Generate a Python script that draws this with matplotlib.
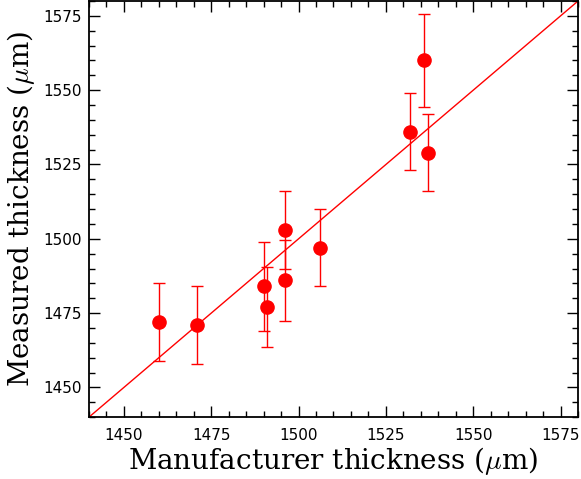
import numpy as np
import matplotlib
matplotlib.use('Agg')
import matplotlib.pyplot as plt
from matplotlib.ticker import MultipleLocator

plt.rcParams['mathtext.fontset'] = 'cm'

# manufacturer thickness vs measured thickness (um)
manufacturer = [1460, 1471, 1490, 1491, 1496, 1496, 1506, 1532, 1536, 1537]
measured = [1472, 1471, 1484, 1477, 1486, 1503, 1497, 1536, 1560, 1529]
errors = [13, 13, 15, 13.5, 13.5, 13, 13, 13, 15.5, 13]
line_range = [1440, 1580]

fig = plt.figure(figsize=(5.81, 4.79), dpi=100)
ax = fig.add_axes([0.153, 0.129, 0.842, 0.869])

ax.plot(line_range, line_range, color='red', lw=1.0)
ax.errorbar(manufacturer, measured, yerr=errors, fmt='o', color='red',
            ms=9.5, elinewidth=1.0, capsize=4, capthick=1.0)

ax.set_xlim(line_range)
ax.set_ylim(line_range)
ax.xaxis.set_major_locator(MultipleLocator(25))
ax.xaxis.set_minor_locator(MultipleLocator(5))
ax.yaxis.set_major_locator(MultipleLocator(25))
ax.yaxis.set_minor_locator(MultipleLocator(5))
ax.tick_params(which='both', direction='in', top=True, right=True, width=1.0)
ax.tick_params(which='major', length=8, labelsize=11)
ax.tick_params(axis='x', which='major', pad=8)
ax.tick_params(axis='y', which='major', pad=5)
ax.tick_params(which='minor', length=4)
for s in ax.spines.values():
    s.set_linewidth(1.3)

ax.set_xlabel(r'Manufacturer thickness ($\mu$m)', family='DejaVu Serif', fontsize=20, labelpad=1)
ax.set_ylabel(r'Measured thickness ($\mu$m)', family='DejaVu Serif', fontsize=20, labelpad=5)

fig.savefig('out.png', dpi=100)
